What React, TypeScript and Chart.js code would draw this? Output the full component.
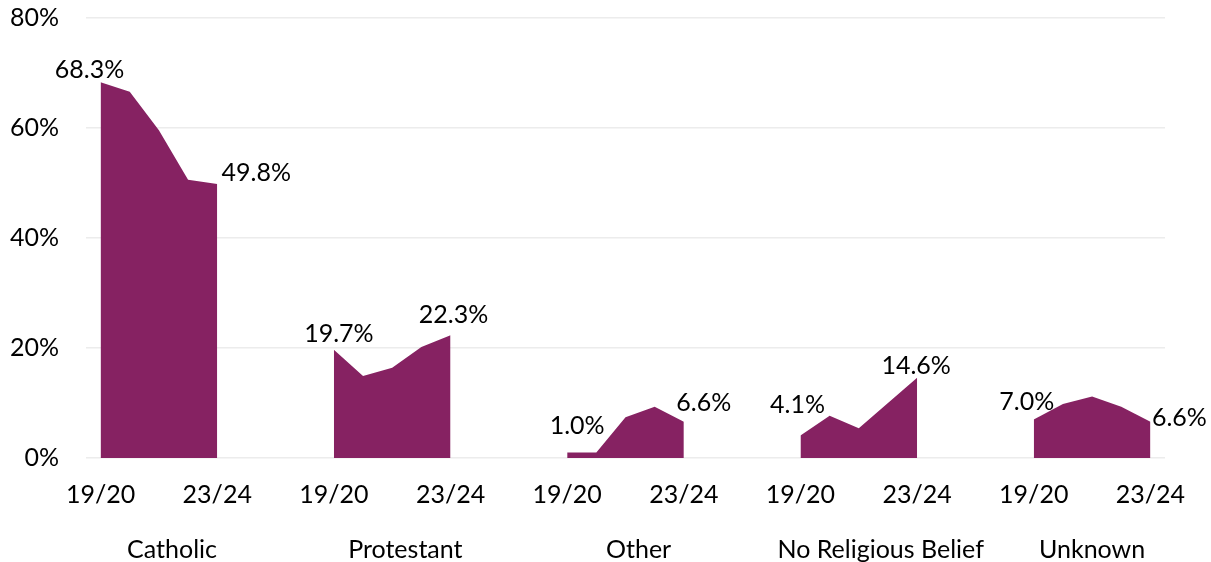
import React, { useEffect, useRef } from "react";
import { Chart, registerables } from "chart.js";

Chart.register(...registerables);

// Religion share of pupils, 2019/20 to 2023/24 (percent)
const GROUPS = ["Catholic", "Protestant", "Other", "No Religious Belief", "Unknown"];
const PERIODS = ["19/20", "20/21", "21/22", "22/23", "23/24"];
const CATHOLIC = [68.3, 66.6, 59.6, 50.6, 49.8];
const PROTESTANT = [19.7, 14.9, 16.4, 20.2, 22.3];
const OTHER = [1.0, 1.0, 7.4, 9.3, 6.6];
const NO_RELIGIOUS_BELIEF = [4.1, 7.7, 5.4, 10.0, 14.6];
const UNKNOWN = [7.0, 9.8, 11.2, 9.3, 6.6];
const SERIES = [CATHOLIC, PROTESTANT, OTHER, NO_RELIGIOUS_BELIEF, UNKNOWN];
const Y_MAX = 80;
const Y_STEP = 20;

// empty category slots separating the groups along the x axis
const GAP_SLOTS = 3;

const FONT = "Lato, 'Open Sans', 'DejaVu Sans', sans-serif";
const FONT_SIZE = 25;
const FILL = "#862262";
const GRID = "#ececec";

// nudges (dx, dy) of the value labels from their points, first then last per group
const LABEL_NUDGE: [number, number][] = [
  [-11, -13], [39, -12],
  [5, -16], [3, -21],
  [10, -27], [20, -19],
  [-3, -31], [-1, -12],
  [-7, -18], [29, -4],
];

// where each group name sits, in category slots from the group's first point
const GROUP_LABEL_SLOT = [2.45, 2.45, 2.45, 2.75, 2.0];

const STRIDE = PERIODS.length + GAP_SLOTS;
const SLOT_COUNT = GROUPS.length * PERIODS.length + (GROUPS.length - 1) * GAP_SLOTS;

const labels: string[] = [];
const inGroupIndex: number[] = [];
for (let i = 0; i < SLOT_COUNT; i++) {
  const k = i % STRIDE;
  labels.push(k < PERIODS.length ? PERIODS[k] : "");
  inGroupIndex.push(k < PERIODS.length ? k : -1);
}

const datasets = SERIES.map((vals, g) => {
  const data: (number | null)[] = new Array(SLOT_COUNT).fill(null);
  vals.forEach((v, k) => {
    data[g * STRIDE + k] = v;
  });
  return {
    label: GROUPS[g],
    data,
    fill: "origin" as const,
    backgroundColor: FILL,
    borderColor: FILL,
    borderWidth: 0,
    pointRadius: 0,
    tension: 0,
    spanGaps: false,
  };
});

const valueLabels = {
  id: "valueLabels",
  afterDatasetsDraw(chart: any) {
    const ctx = chart.ctx;
    ctx.save();
    ctx.font = `${FONT_SIZE}px ${FONT}`;
    ctx.fillStyle = "#000";
    ctx.textAlign = "center";
    ctx.textBaseline = "alphabetic";
    SERIES.forEach((vals, g) => {
      const meta = chart.getDatasetMeta(g);
      [0, vals.length - 1].forEach((k, j) => {
        const pt = meta.data[g * STRIDE + k];
        const [dx, dy] = LABEL_NUDGE[g * 2 + j];
        ctx.fillText(`${vals[k].toFixed(1)}%`, pt.x + dx, pt.y + dy + 8.5);
      });
    });
    ctx.restore();
  },
};

const groupLabels = {
  id: "groupLabels",
  afterDraw(chart: any) {
    const ctx = chart.ctx;
    const x = chart.scales.x;
    ctx.save();
    ctx.font = `${FONT_SIZE}px ${FONT}`;
    ctx.fillStyle = "#000";
    ctx.textAlign = "center";
    ctx.textBaseline = "alphabetic";
    GROUPS.forEach((name, g) => {
      const cx = x.getPixelForValue(g * STRIDE + GROUP_LABEL_SLOT[g]);
      ctx.fillText(name, cx, chart.height - 4);
    });
    ctx.restore();
  },
};

export default function App() {
  const ref = useRef<HTMLCanvasElement | null>(null);

  useEffect(() => {
    document.body.style.margin = "0";
    if (!ref.current) return;
    const chart = new Chart(ref.current, {
      type: "line",
      data: { labels, datasets },
      options: {
        animation: false,
        responsive: false,
        layout: { padding: { top: 18, right: 46, left: 0, bottom: 0 } },
        plugins: {
          legend: { display: false },
          tooltip: { enabled: false },
        },
        scales: {
          x: {
            type: "category",
            offset: true,
            grid: { display: false, drawTicks: false },
            border: { display: false },
            afterFit(scale: any) {
              scale.height = 104;
              scale.paddingLeft = 0;
              scale.paddingRight = 0;
            },
            ticks: {
              autoSkip: false,
              maxRotation: 0,
              minRotation: 0,
              padding: 22,
              color: "#000",
              font: { family: FONT, size: FONT_SIZE },
              callback: (_v: any, i: number) => {
                const k = inGroupIndex[i];
                return k === 0 || k === PERIODS.length - 1 ? labels[i] : "";
              },
            },
          },
          y: {
            min: 0,
            max: Y_MAX,
            grid: { color: GRID, lineWidth: 1.5, drawTicks: false },
            border: { display: false },
            afterFit(scale: any) {
              scale.width = 86;
              scale.paddingTop = 0;
              scale.paddingBottom = 0;
            },
            ticks: {
              stepSize: Y_STEP,
              padding: 27,
              color: "#000",
              font: { family: FONT, size: FONT_SIZE },
              callback: (v: any) => `${v}%`,
            },
          },
        },
      },
      plugins: [valueLabels, groupLabels],
    });
    return () => chart.destroy();
  }, []);

  return (
    <div style={{ width: 1211, height: 562 }}>
      <canvas ref={ref} width={1211} height={562} />
    </div>
  );
}
